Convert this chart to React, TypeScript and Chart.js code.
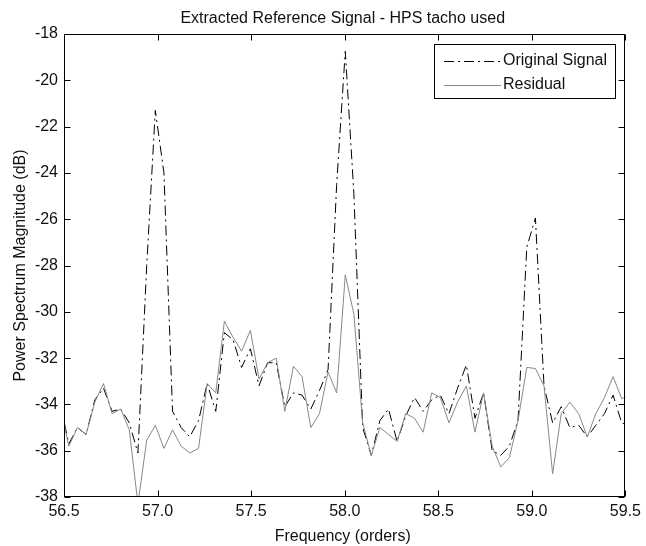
import React, { useEffect, useRef } from "react";
import { Chart, registerables } from "chart.js";

Chart.register(...registerables);

// Order-domain spectrum bins (orders)
const frequency = [
  56.48, 56.526, 56.572, 56.618, 56.665, 56.711, 56.757, 56.803, 56.849, 56.895,
  56.942, 56.988, 57.034, 57.08, 57.126, 57.172, 57.219, 57.265, 57.311, 57.357,
  57.403, 57.449, 57.496, 57.542, 57.588, 57.634, 57.68, 57.726, 57.772, 57.819,
  57.865, 57.911, 57.957, 58.003, 58.049, 58.096, 58.142, 58.188, 58.234, 58.28,
  58.326, 58.373, 58.419, 58.465, 58.511, 58.557, 58.603, 58.65, 58.696, 58.742,
  58.788, 58.834, 58.88, 58.926, 58.973, 59.019, 59.065, 59.111, 59.157, 59.203,
  59.25, 59.296, 59.342, 59.388, 59.434, 59.48, 59.527,
];

// Power spectrum magnitude of the original signal (dB)
const originalSignal = [
  -34.0, -35.7, -35.0, -35.3, -33.8, -33.3, -34.3, -34.2, -34.8, -36.1,
  -28.0, -21.3, -24.0, -34.3, -35.0, -35.4, -34.7, -33.1, -34.3, -30.9,
  -31.2, -32.4, -31.6, -33.2, -32.2, -32.2, -34.1, -33.5, -33.6, -34.2,
  -33.4, -32.5, -24.5, -18.75, -24.9, -35.0, -36.2, -34.7, -34.2, -35.6,
  -34.5, -33.7, -34.3, -33.8, -33.6, -34.4, -33.3, -32.3, -34.6, -33.5,
  -36.0, -36.2, -35.8, -34.7, -27.2, -25.95, -33.2, -34.8, -34.1, -35.0,
  -34.9, -35.4, -34.9, -34.4, -33.6, -34.8, -34.9,
];

// Power spectrum magnitude of the residual after extraction (dB)
const residual = [
  -34.1, -35.8, -35.0, -35.3, -33.9, -33.1, -34.4, -34.2, -35.1, -38.3,
  -35.55, -34.9, -35.9, -35.1, -35.8, -36.1, -35.9, -33.1, -33.5, -30.4,
  -31.1, -31.7, -30.8, -32.9, -32.2, -32.0, -34.3, -32.35, -32.8, -35.0,
  -34.4, -32.6, -33.5, -28.4, -30.1, -34.8, -36.2, -35.0, -35.3, -35.6,
  -34.4, -34.6, -35.2, -33.5, -33.7, -34.8, -33.9, -33.2, -35.2, -33.5,
  -35.8, -36.7, -36.3, -34.7, -32.4, -32.45, -33.2, -37.0, -34.4, -33.9,
  -34.4, -35.4, -34.4, -33.7, -32.8, -33.75, -33.6,
];

const xTicks = [56.5, 57, 57.5, 58, 58.5, 59, 59.5];
const yTicks = [-38, -36, -34, -32, -30, -28, -26, -24, -22, -20, -18];

const titleText = "Extracted Reference Signal - HPS tacho used";
const xLabel = "Frequency (orders)";
const yLabel = "Power Spectrum Magnitude (dB)";
const seriesNames = ["Original Signal", "Residual"];

const FONT = '"Liberation Sans", Arial, Helvetica, sans-serif';
const FONT_SIZE = 16;
const TEXT_COLOR = "#111";
const ORIGINAL_COLOR = "#000";
const RESIDUAL_COLOR = "#888";
const DASH_DOT = [10, 4, 2, 4];

// Box, inward ticks, legend and labels in the classic figure style
const figureDecor = {
  id: "figureDecor",
  afterDraw(chart: any) {
    const { ctx, chartArea: a, scales } = chart;
    const xs = scales.x;
    const ys = scales.y;
    ctx.save();

    const L = Math.round(a.left) + 0.5;
    const R = Math.round(a.right) - 0.5;
    const T = Math.round(a.top) + 0.5;
    const B = Math.round(a.bottom) - 0.5;
    const tickLen = 6;

    ctx.strokeStyle = "#000";
    ctx.lineWidth = 1;
    ctx.setLineDash([]);
    ctx.strokeRect(L, T, R - L, B - T);

    ctx.beginPath();
    for (const v of xTicks) {
      const px = Math.round(xs.getPixelForValue(v)) + 0.5;
      ctx.moveTo(px, B);
      ctx.lineTo(px, B - tickLen);
      ctx.moveTo(px, T);
      ctx.lineTo(px, T + tickLen);
    }
    for (const v of yTicks) {
      const py = Math.round(ys.getPixelForValue(v)) + 0.5;
      ctx.moveTo(L, py);
      ctx.lineTo(L + tickLen, py);
      ctx.moveTo(R, py);
      ctx.lineTo(R - tickLen, py);
    }
    ctx.stroke();

    // Legend
    ctx.font = `${FONT_SIZE}px ${FONT}`;
    const textW = Math.max(...seriesNames.map((s) => ctx.measureText(s).width));
    const sampleStart = 10;
    const sampleEnd = 67;
    const textStart = 69;
    const boxW = textStart + textW + 9;
    const boxH = 55;
    const boxRight = Math.round(a.right) - 9;
    const boxLeft = Math.round(boxRight - boxW);
    const boxTop = Math.round(a.top) + 10;
    ctx.fillStyle = "#fff";
    ctx.fillRect(boxLeft, boxTop, boxW, boxH);
    ctx.strokeStyle = "#000";
    ctx.strokeRect(boxLeft + 0.5, boxTop + 0.5, Math.round(boxW) - 1, boxH - 1);

    const rows = [
      { name: seriesNames[0], color: ORIGINAL_COLOR, dash: DASH_DOT, y: boxTop + 16.5 },
      { name: seriesNames[1], color: RESIDUAL_COLOR, dash: [], y: boxTop + 40.5 },
    ];
    for (const r of rows) {
      ctx.strokeStyle = r.color;
      ctx.setLineDash(r.dash);
      ctx.beginPath();
      ctx.moveTo(boxLeft + sampleStart, Math.round(r.y) + 0.5);
      ctx.lineTo(boxLeft + sampleEnd, Math.round(r.y) + 0.5);
      ctx.stroke();
      ctx.setLineDash([]);
      ctx.fillStyle = TEXT_COLOR;
      ctx.textAlign = "left";
      ctx.textBaseline = "middle";
      ctx.fillText(r.name, boxLeft + textStart, r.y);
    }

    // Title and axis labels
    const cx = (a.left + a.right) / 2 - 2;
    ctx.fillStyle = TEXT_COLOR;
    ctx.textAlign = "center";
    ctx.textBaseline = "alphabetic";
    ctx.fillText(titleText, cx, 22.5);
    ctx.fillText(xLabel, cx, 541);

    ctx.translate(25, (a.top + a.bottom) / 2);
    ctx.rotate(-Math.PI / 2);
    ctx.fillText(yLabel, 0, 0);

    ctx.restore();
  },
};

export default function App() {
  const canvasRef = useRef<HTMLCanvasElement | null>(null);

  useEffect(() => {
    const canvas = canvasRef.current;
    if (!canvas) return;

    const tickFont = { family: FONT, size: FONT_SIZE };

    const chart = new Chart(canvas, {
      type: "line",
      data: {
        datasets: [
          {
            label: seriesNames[0],
            data: frequency.map((f, i) => ({ x: f, y: originalSignal[i] })),
            borderColor: ORIGINAL_COLOR,
            borderWidth: 1,
            borderDash: DASH_DOT,
            pointRadius: 0,
            tension: 0,
            fill: false,
            clip: 0,
            order: 1,
          },
          {
            label: seriesNames[1],
            data: frequency.map((f, i) => ({ x: f, y: residual[i] })),
            borderColor: RESIDUAL_COLOR,
            borderWidth: 1,
            pointRadius: 0,
            tension: 0,
            fill: false,
            clip: 0,
            order: 0,
          },
        ],
      },
      options: {
        responsive: false,
        animation: false,
        events: [],
        layout: { padding: { left: 0, top: 34, right: 15, bottom: 0 } },
        plugins: {
          legend: { display: false },
          title: { display: false },
          tooltip: { enabled: false },
        },
        scales: {
          x: {
            type: "linear",
            min: 56.5,
            max: 59.5,
            afterBuildTicks: (s: any) => {
              s.ticks = xTicks.map((v) => ({ value: v }));
            },
            afterFit: (s: any) => {
              s.height = 49;
            },
            grid: { display: false, drawTicks: false },
            border: { display: false },
            ticks: {
              font: tickFont,
              color: TEXT_COLOR,
              padding: 5,
              maxRotation: 0,
              autoSkip: false,
            },
          },
          y: {
            type: "linear",
            min: -38,
            max: -18,
            afterBuildTicks: (s: any) => {
              s.ticks = yTicks.map((v) => ({ value: v }));
            },
            afterFit: (s: any) => {
              s.width = 64;
            },
            grid: { display: false, drawTicks: false },
            border: { display: false },
            ticks: {
              font: tickFont,
              color: TEXT_COLOR,
              padding: 6,
              autoSkip: false,
            },
          },
        },
      },
      plugins: [figureDecor],
    });

    return () => chart.destroy();
  }, []);

  return (
    <div style={{ position: "absolute", left: 0, top: 0, width: 646, height: 546, background: "#fff" }}>
      <canvas ref={canvasRef} width={646} height={546} style={{ display: "block" }} />
    </div>
  );
}
